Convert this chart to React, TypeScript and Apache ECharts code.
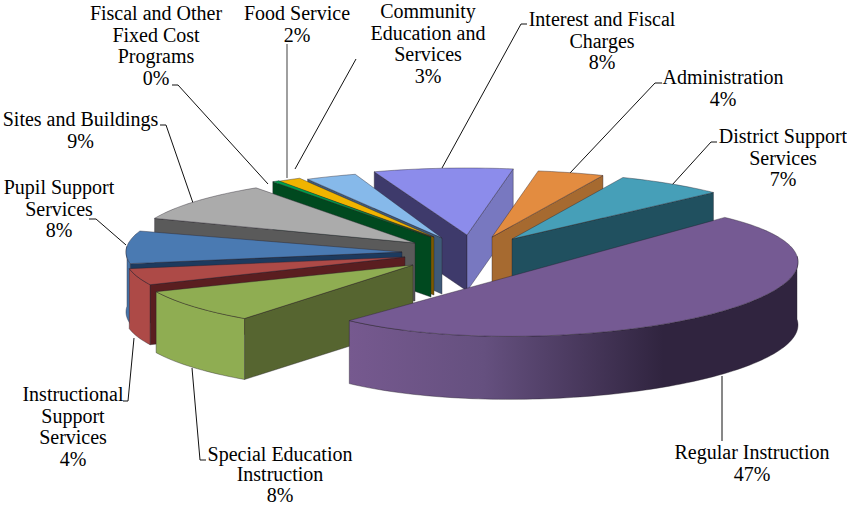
import React, { useEffect, useRef } from "react";
import * as echarts from "echarts";

const categories = ["Regular Instruction","Special Education Instruction","Instructional Support Services","Pupil Support Services","Sites and Buildings","Fiscal and Other Fixed Cost Programs","Food Service","Community Education and Services","Interest and Fiscal Charges","Administration","District Support Services"];
const values = [47.0, 8.4, 4.4, 7.9, 9.4, 0.4, 1.7, 3.0, 8.2, 3.7, 6.5];
const labelLines = [
  ["Regular Instruction"],["Special Education","Instruction"],["Instructional","Support","Services"],["Pupil Support","Services"],["Sites and Buildings"],["Fiscal and Other","Fixed Cost","Programs"],["Food Service"],["Community","Education and","Services"],["Interest and Fiscal","Charges"],["Administration"],["District Support","Services"]];
const percentLabels = ["47%","8%","4%","8%","9%","0%","2%","3%","8%","4%","7%"];

const topColors = ["#755a93","#8fad52","#ad4a47","#4a7ab2","#ababab","#00a04e","#f0b400","#86b9ea","#8c8ceb","#e38c40","#469fb8"];
const wallColors = ["#76598f","#8fad52","#ad4a47","#4877ab","#8a8a8a","#00491f","#7a5a00","#3f5a78","#3e3a6b","#a66a30","#20505f"];
const startWallColors = ["#3a2c4a","#566530","#5a1e20","#1d3a5e","#5a5a5a","#00491f","#7a5a00","#3f5a78","#3e3a6b","#a66a30","#20505f"];
const endWallColors = ["#3a2c4a","#566530","#5a1e20","#1d3a5e","#5a5a5a","#00491f","#7a5a00","#3f5a78","#7878c0","#a66a30","#20505f"];
const apexX = [537, 413, 405, 402, 415, 431, 434, 442, 467, 492, 512];
const apexY = [269, 265, 257, 252, 243, 237, 237, 238, 235, 237, 239];
const radiusX = [261, 280, 280, 276, 280, 280, 280, 280, 280, 280, 280];
const depths = [63, 61, 60, 60, 58, 60, 58, 56, 56, 56, 56];
const startNudge = [0, 2.8, 1.3, 0, 3.3, 3.7, 2.9, 1.9, 0.5, 0, 0.6];
const endNudge = [11.8, 2.3, 0, 0, 3.5, 3.7, 1.9, 1.8, 0, 0.6, 0];
const shears = [0.027, 0, 0, 0, 0, 0, 0, 0, 0, 0, 0];
const labelX = [752, 280, 73, 59, 80.5, 156, 297, 428, 602, 723, 783];
const labelY = [441, 444, 383, 176, 108, 2, 2, 0, 8, 66, 125];
const labelLineHeights = [21.7, 20.3, 21.7, 21.7, 21.7, 21.7, 21.7, 21.7, 21.7, 21.7, 21.7];
const leaders: number[][][] = [
  [[722,376],[722,441]],
  [[192,368],[200,460],[206,460]],
  [[134,338],[128,401],[123,401]],
  [[89,219],[96,219],[126,245]],
  [[160,125],[166,125],[193,203]],
  [[172,85],[178,85],[268,184]],
  [[287,44],[287,178]],
  [[356,59],[295,169]],
  [[527,24],[521,24],[442,168]],
  [[662,83],[655,83],[570,173]],
  [[717,142],[711,142],[672,185]],
];

const START = -44, RY = 67;
const total = values.reduce((a, b) => a + b, 0);
const rad = (d: number) => (d * Math.PI) / 180;
const spans = values.map((_, i) => {
  const before = values.slice(0, i).reduce((a, b) => a + b, 0);
  const a0 = START + (before / total) * 360;
  return [a0 + startNudge[i], a0 + (values[i] / total) * 360 + endNudge[i]];
});
const drawOrder = values
  .map((_, i) => i)
  .sort((p, q) => Math.sin(rad((spans[p][0] + spans[p][1]) / 2)) - Math.sin(rad((spans[q][0] + spans[q][1]) / 2)));

const renderSlice = (_: any, api: any) => {
  const i = api.value(0) as number;
  const a = spans[i][0], b = spans[i][1];
  const cx = apexX[i], cy = apexY[i], rx = radiusX[i], d = depths[i];
  const pt = (t: number): number[] => {
    const dx = rx * Math.cos(rad(t));
    return [cx + dx, cy + RY * Math.sin(rad(t)) - shears[i] * dx];
  };
  const down = (p: number[]) => [p[0], p[1] + d];
  const arc: number[][] = [];
  const steps = Math.max(2, Math.ceil((b - a) / 1.5));
  for (let k = 0; k <= steps; k++) arc.push(pt(a + ((b - a) * k) / steps));
  const lineStyle = { stroke: "rgba(35,30,40,0.65)", lineWidth: 0.6 };
  const children: any[] = [];
  const apex = [cx, cy];
  if (Math.cos(rad(a)) < 0) {
    const p = pt(a);
    children.push({ type: "polygon", shape: { points: [apex, p, down(p), down(apex)] }, style: { fill: startWallColors[i], ...lineStyle } });
  }
  if (Math.cos(rad(b)) > 0) {
    const p = pt(b);
    children.push({ type: "polygon", shape: { points: [apex, p, down(p), down(apex)] }, style: { fill: endWallColors[i], ...lineStyle } });
  }
  const front: number[][] = [];
  for (let k = 0; k <= steps; k++) {
    const t = a + ((b - a) * k) / steps;
    if (Math.sin(rad(t)) > -0.11) front.push(pt(t));
  }
  if (front.length > 1) {
    const fill = i === 0
      ? new echarts.graphic.LinearGradient(0, 0, 1, 0, [
          { offset: 0, color: "#76598f" },
          { offset: 0.3, color: "#65507f" },
          { offset: 0.7, color: "#30243f" },
          { offset: 1, color: "#30243f" },
        ])
      : wallColors[i];
    children.push({ type: "polygon", shape: { points: [...front, ...front.slice().reverse().map(down)] }, style: { fill, ...lineStyle } });
  }
  children.push({ type: "polygon", shape: { points: [apex, ...arc] }, style: { fill: topColors[i], ...lineStyle } });
  return { type: "group", children };
};

export default function App() {
  const ref = useRef<HTMLDivElement>(null);
  useEffect(() => {
    const chart = echarts.init(ref.current!, undefined, { renderer: "svg" });
    const texts = categories.map((_, i) => ({
      type: "text",
      x: labelX[i],
      y: labelY[i],
      style: {
        text: [...labelLines[i], percentLabels[i]].join("\n"),
        font: "20px 'Liberation Serif'",
        fill: "#000",
        align: "center",
        lineHeight: labelLineHeights[i],
      },
    }));
    const lines = leaders.map((points, i) => ({
      type: "polyline",
      shape: { points },
      style: { stroke: i === 6 ? "#888" : "#111", lineWidth: i === 6 ? 1.6 : 1, fill: "none" },
    }));
    chart.setOption({
      animation: false,
      backgroundColor: "#fff",
      series: [{
        type: "custom",
        coordinateSystem: "none",
        renderItem: renderSlice,
        data: drawOrder.map((i) => [i, categories[i], values[i]]),
        silent: true,
        z: 3,
      }],
      graphic: [...lines, ...texts],
    });
    return () => chart.dispose();
  }, []);
  return <div ref={ref} style={{ position: "fixed", left: 0, top: 0, width: 847, height: 505 }} />;
}
